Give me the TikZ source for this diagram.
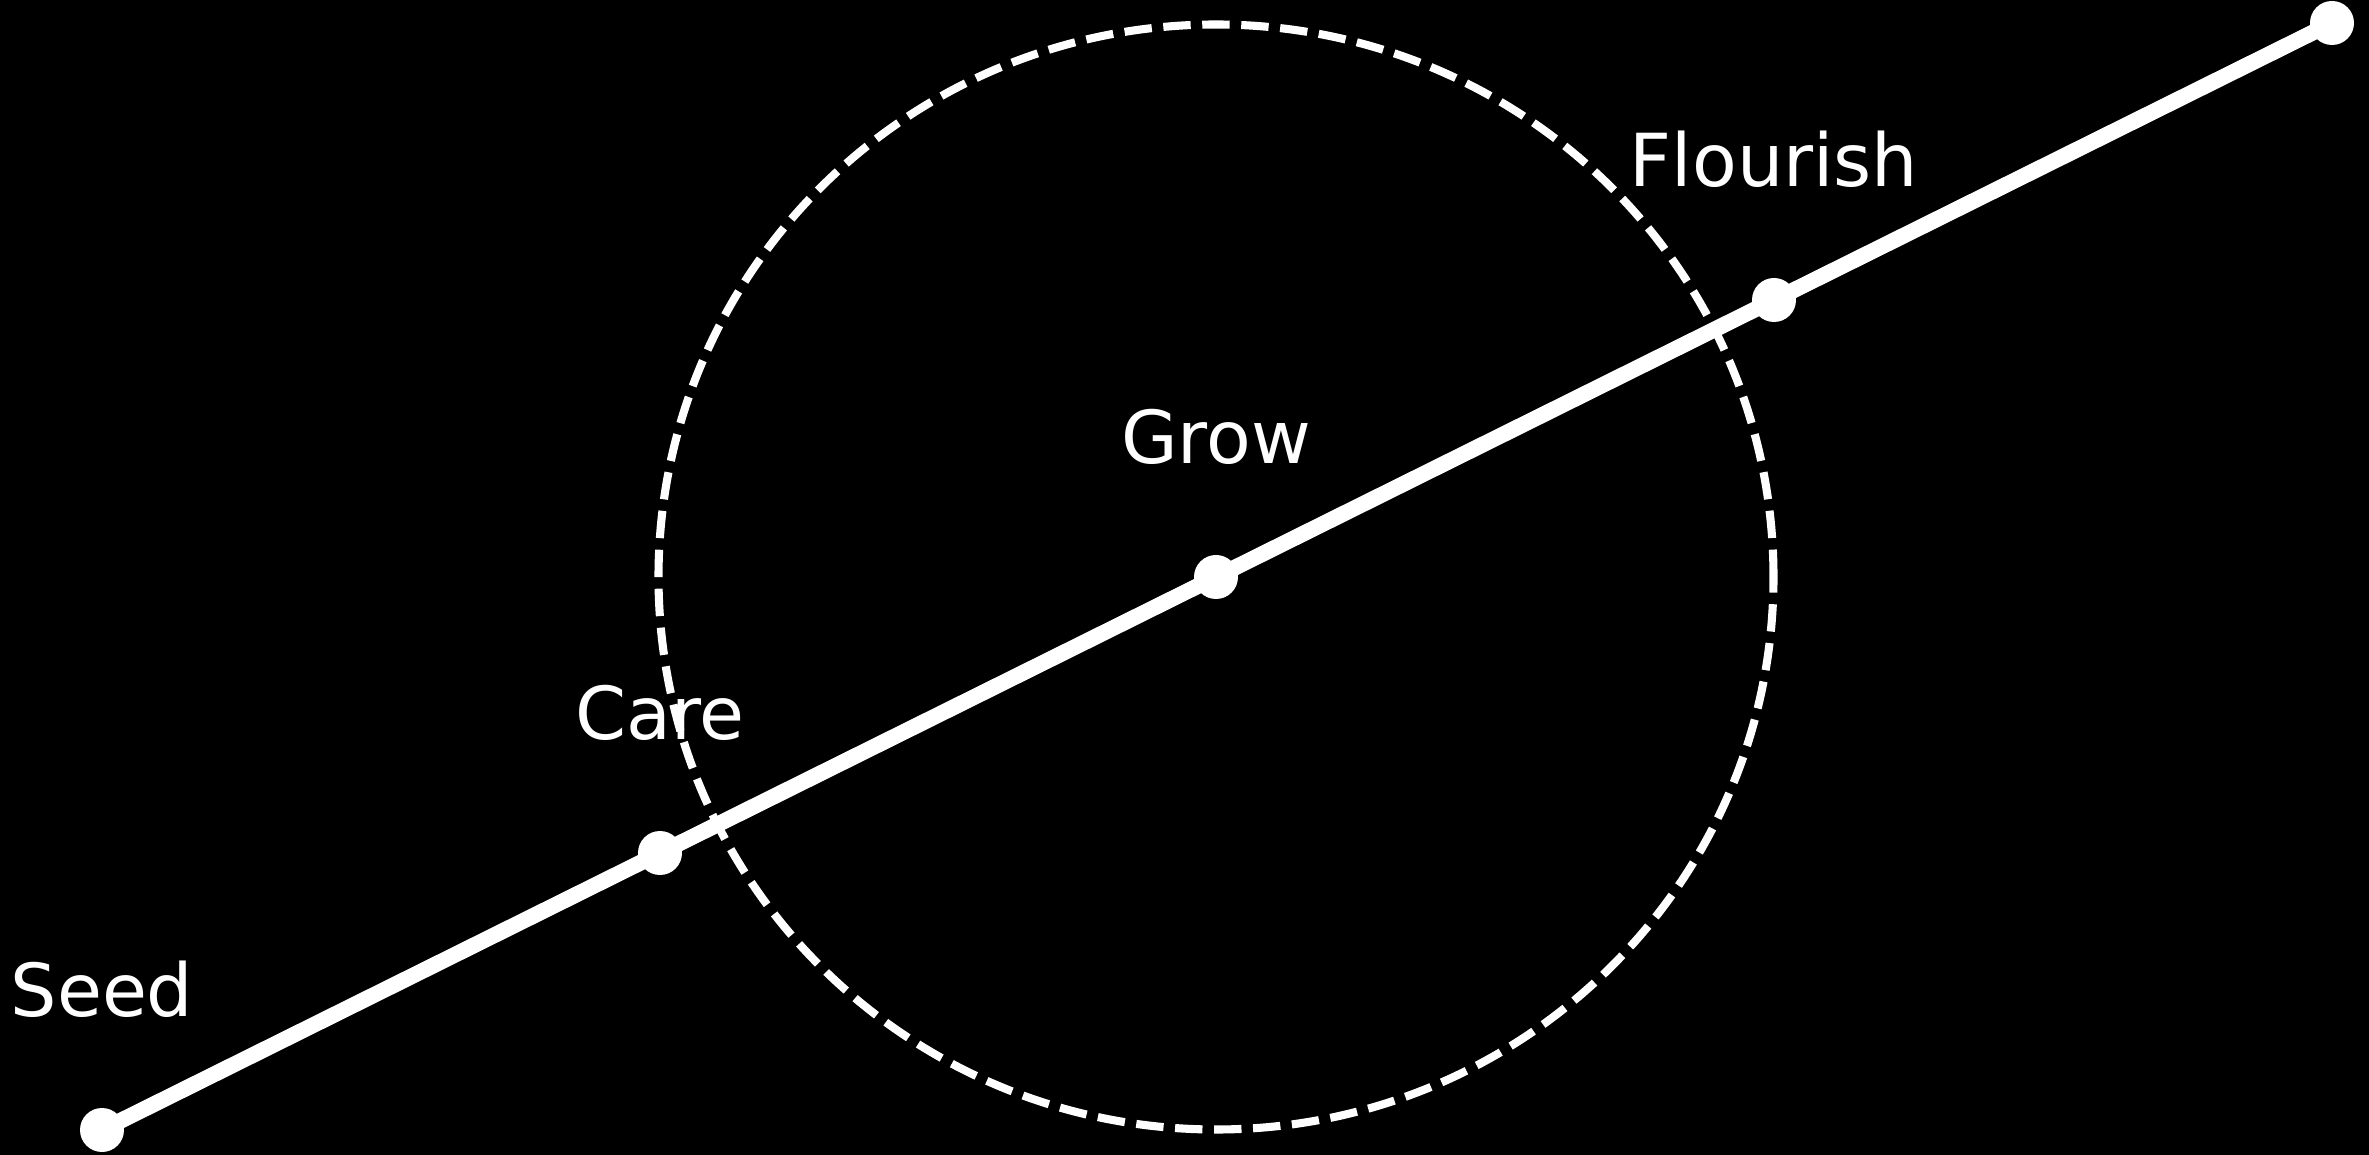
\documentclass[tikz,border=0pt]{standalone}
\usepackage{fontspec}
\setmainfont{DejaVu Sans}
\usepackage{tikz}
\usetikzlibrary{positioning,backgrounds}

\begin{document}
\begin{tikzpicture}[thick,
  dot/.style={circle, fill=white, inner sep=0pt, minimum size=0.44cm},
  lbl/.style={text=white, inner sep=0pt, font=\fontsize{20.8}{25}\selectfont}]
  \useasboundingbox (0,0) rectangle (23.69,11.54);
  \node[dot] (seed) at (1.02,0.24) {};
  \node[dot] (care) at (6.60,3.01) {};
  \node[dot] (grow) at (12.16,5.77) {};
  \node[dot] (flourish) at (17.74,8.54) {};
  \node[dot] (tip) at (23.32,11.31) {};
  \begin{scope}[on background layer]
    \fill[black] (-0.2,-0.2) rectangle (23.89,11.74);
    \draw[white, line width=2.3pt, dash pattern=on 7.8pt off 3.3pt] (grow.center) ellipse[x radius=5.575, y radius=5.525];
    \draw[white, line width=4.5pt] (seed.center) -- (care.center) -- (grow.center) -- (flourish.center) -- (tip.center);
  \end{scope}
  \node[lbl, above=0.88cm of seed] (seedlbl) {Seed};
  \node[lbl, above=0.88cm of care] (carelbl) {Care};
  \node[lbl, above=0.88cm of grow] (growlbl) {Grow};
  \node[lbl, above=0.88cm of flourish] (flourishlbl) {Flourish};
\end{tikzpicture}
\end{document}
